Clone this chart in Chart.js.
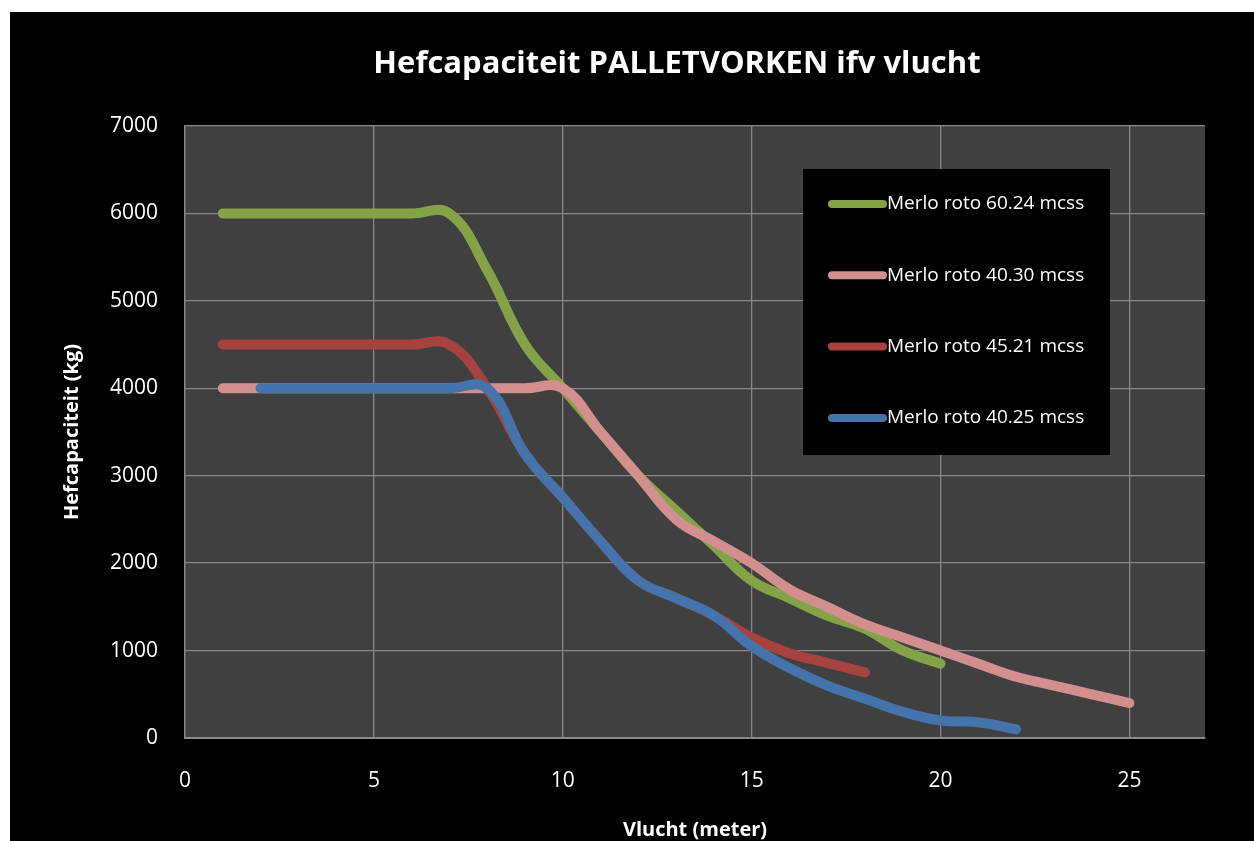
<!DOCTYPE html>
<html>
<head>
<meta charset="utf-8">
<title>Hefcapaciteit PALLETVORKEN ifv vlucht</title>
<script src="https://cdn.jsdelivr.net/npm/chart.js@4/dist/chart.umd.min.js"></script>
<style>
    html, body { margin: 0; padding: 0; background: #ffffff; }
    #wrap { position: absolute; left: 10px; top: 12px; width: 1244px; height: 829px; background: #000000; }
</style>
</head>
<body>
<div id="wrap"><canvas id="liftChart" width="1244" height="829"></canvas></div>
<script>
// Series data (x = vlucht in meter, y = hefcapaciteit in kg)
const chartTitle = 'Hefcapaciteit PALLETVORKEN ifv vlucht';
const seriesNames = ['Merlo roto 60.24 mcss', 'Merlo roto 40.30 mcss', 'Merlo roto 45.21 mcss', 'Merlo roto 40.25 mcss'];
const seriesColors = ['#84a347', '#d28f8e', '#a6433f', '#4573ab'];

const x6024 = [1, 2, 3, 4, 5, 6, 7, 8, 9, 10, 11, 12, 13, 14, 15, 16, 17, 18, 19, 20];
const y6024 = [6000, 6000, 6000, 6000, 6000, 6000, 6000, 5350, 4500, 4000, 3500, 3000, 2600, 2200, 1800, 1600, 1400, 1250, 1000, 850];

const x4030 = [1, 2, 3, 4, 5, 6, 7, 8, 9, 10, 11, 12, 13, 14, 15, 16, 17, 18, 19, 20, 21, 22, 23, 24, 25];
const y4030 = [4000, 4000, 4000, 4000, 4000, 4000, 4000, 4000, 4000, 4000, 3500, 3000, 2500, 2250, 2000, 1700, 1500, 1300, 1150, 1000, 850, 700, 600, 500, 400];

const x4521 = [1, 2, 3, 4, 5, 6, 7, 8, 9, 10, 11, 12, 13, 14, 15, 16, 17, 18];
const y4521 = [4500, 4500, 4500, 4500, 4500, 4500, 4500, 4000, 3250, 2750, 2250, 1800, 1600, 1400, 1150, 970, 860, 750];

const x4025 = [2, 3, 4, 5, 6, 7, 8, 9, 10, 11, 12, 13, 14, 15, 16, 17, 18, 19, 20, 21, 22];
const y4025 = [4000, 4000, 4000, 4000, 4000, 4000, 4000, 3250, 2750, 2250, 1800, 1600, 1400, 1050, 800, 600, 450, 300, 200, 180, 100];

const xTicks = [0, 5, 10, 15, 20, 25];
const yTicks = [0, 1000, 2000, 3000, 4000, 5000, 6000, 7000];

function toPoints(xs, ys) {
    return xs.map((x, i) => ({ x: x, y: ys[i] }));
}

const allSeries = [[x6024, y6024], [x4030, y4030], [x4521, y4521], [x4025, y4025]];

// Excel draws the last series on top, so give later series a lower order
const datasets = allSeries.map((s, i) => ({
    label: seriesNames[i],
    data: toPoints(s[0], s[1]),
    borderColor: seriesColors[i],
    backgroundColor: seriesColors[i],
    borderWidth: 10,
    borderCapStyle: 'round',
    borderJoinStyle: 'round',
    pointRadius: 0,
    tension: 0.42,
    fill: false,
    order: allSeries.length - 1 - i
}));

// Dark plot area behind the lines
const plotBackground = {
    id: 'plotBackground',
    beforeDraw(chart) {
        const { ctx, chartArea } = chart;
        ctx.save();
        ctx.fillStyle = '#404040';
        ctx.fillRect(chartArea.left, chartArea.top, chartArea.right - chartArea.left, chartArea.bottom - chartArea.top);
        ctx.restore();
    }
};

// Title: Excel centres it a bit left of the plot centre, which the title plugin can't do
const offsetTitle = {
    id: 'offsetTitle',
    afterDraw(chart) {
        const { ctx, chartArea } = chart;
        ctx.save();
        ctx.fillStyle = '#ffffff';
        ctx.font = 'bold 31px "Open Sans", sans-serif';
        ctx.textAlign = 'center';
        ctx.textBaseline = 'middle';
        ctx.fillText(chartTitle, (chartArea.left + chartArea.right) / 2 - 18, 52);
        ctx.restore();
    }
};

// Legend as a black box inside the plot, like the Excel original
const boxLegend = {
    id: 'boxLegend',
    afterDraw(chart) {
        const { ctx, chartArea } = chart;
        const left = chartArea.left + 618;
        const top = chartArea.top + 43;
        const width = 307;
        const height = 286;
        ctx.save();
        ctx.fillStyle = '#000000';
        ctx.fillRect(left, top, width, height);
        ctx.font = '19px "Open Sans", sans-serif';
        ctx.textBaseline = 'middle';
        ctx.textAlign = 'left';
        seriesNames.forEach((name, i) => {
            const y = top + 35 + i * 71.3;
            ctx.strokeStyle = seriesColors[i];
            ctx.lineWidth = 8;
            ctx.lineCap = 'round';
            ctx.beginPath();
            ctx.moveTo(left + 29, y);
            ctx.lineTo(left + 80, y);
            ctx.stroke();
            ctx.fillStyle = '#ffffff';
            ctx.fillText(name, left + 84, y);
        });
        ctx.restore();
    }
};

new Chart(document.getElementById('liftChart'), {
    type: 'line',
    data: { datasets: datasets },
    plugins: [plotBackground, offsetTitle, boxLegend],
    options: {
        responsive: false,
        animation: false,
        layout: { padding: { left: 0, right: 49, top: 114, bottom: 0 } },
        plugins: {
            legend: { display: false },
            tooltip: { enabled: false },
            title: { display: false }
        },
        scales: {
            x: {
                type: 'linear',
                min: 0,
                max: 27,
                afterFit(scale) { scale.height = 103; },
                afterBuildTicks(scale) { scale.ticks = xTicks.map(v => ({ value: v })); },
                ticks: {
                    color: '#ffffff',
                    padding: 30,
                    font: { family: '"Open Sans", sans-serif', size: 21 }
                },
                grid: { color: '#878787', lineWidth: 1.3, drawTicks: false },
                border: { color: '#8a8a8a', width: 2 },
                title: {
                    display: true,
                    text: 'Vlucht (meter)',
                    color: '#ffffff',
                    font: { family: '"Open Sans", sans-serif', size: 20, weight: 'bold' },
                    padding: { top: 0, bottom: -1 }
                }
            },
            y: {
                min: 0,
                max: 7000,
                afterFit(scale) { scale.width = 175; },
                afterBuildTicks(scale) { scale.ticks = yTicks.map(v => ({ value: v })); },
                ticks: {
                    color: '#ffffff',
                    padding: 27,
                    font: { family: '"Open Sans", sans-serif', size: 21 },
                    callback: v => String(v)
                },
                grid: { color: '#878787', lineWidth: 1.3, drawTicks: false },
                border: { color: '#8a8a8a', width: 1.3 },
                title: {
                    display: true,
                    text: 'Hefcapaciteit (kg)',
                    color: '#ffffff',
                    font: { family: '"Open Sans", sans-serif', size: 20, weight: 'bold' },
                    padding: { top: 50, bottom: 0 }
                }
            }
        }
    }
});
</script>
</body>
</html>
